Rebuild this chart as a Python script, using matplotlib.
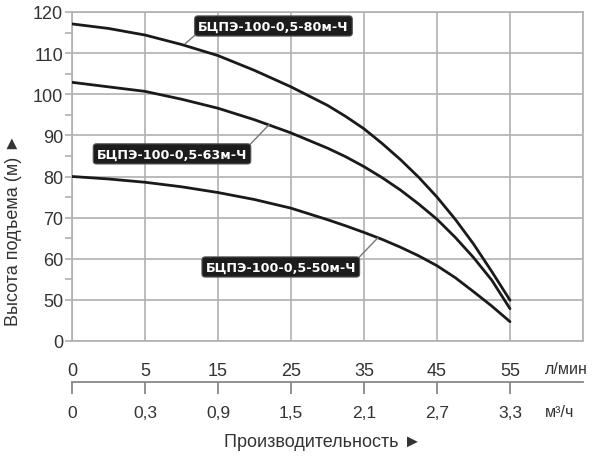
import numpy as np
import matplotlib
matplotlib.use("Agg")
import matplotlib.pyplot as plt

plt.rcParams['font.family'] = ['Liberation Sans', 'DejaVu Sans']

# ---- data ----
flow_lpm = [0, 2.5, 5, 10, 15, 20, 25, 30, 32.5, 35, 37.5, 40, 42.5, 45, 47.5, 50, 52.5, 55]
head_80 = [117.1, 116.0, 114.4, 112.1, 109.4, 105.8, 101.8, 97.3, 94.6, 91.6, 88.0, 84.1,
           79.8, 75.0, 69.6, 63.6, 56.9, 49.6]
head_63 = [102.9, 101.8, 100.7, 98.8, 96.6, 93.8, 90.6, 86.9, 84.8, 82.4, 79.7, 76.7,
           73.3, 69.6, 65.2, 60.3, 54.8, 39.3]
head_50 = [80.0, 79.4, 78.6, 77.5, 76.1, 74.4, 72.3, 69.5, 68.0, 66.4, 64.7, 62.8,
           60.7, 58.3, 55.4, 52.0, 42.5, 23.5]

names = ["БЦПЭ-100-0,5-80м-Ч", "БЦПЭ-100-0,5-63м-Ч", "БЦПЭ-100-0,5-50м-Ч"]

x_ticks = [0, 5, 15, 25, 35, 45, 55]
x_ticklabels = ["0", "5", "15", "25", "35", "45", "55"]
x2_ticklabels = ["0", "0,3", "0,9", "1,5", "2,1", "2,7", "3,3"]
y_ticks = [0, 50, 60, 70, 80, 90, 100, 110, 120]
y_ticklabels = ["0", "50", "60", "70", "80", "90", "100", "110", "120"]
y_minor = [55, 65, 75, 85, 95, 105, 115]

# ---- piecewise scales (equal spacing between ticks) ----
xb = np.array([-1e4, 0, 5, 15, 25, 35, 45, 55, 65, 65 + 1e4])
xp = np.array([-2e3, 0, 1, 2, 3, 4, 5, 6, 7, 7 + 1e3])
yb = np.array([-1e4, 0, 50, 60, 70, 80, 90, 100, 110, 120, 120 + 1e4])
yp = np.array([-200, 0, 1, 2, 3, 4, 5, 6, 7, 8, 8 + 1e3])

def fx(v):
    return np.interp(v, xb, xp)
def fx_inv(v):
    return np.interp(v, xp, xb)
def fy(v):
    return np.interp(v, yb, yp)
def fy_inv(v):
    return np.interp(v, yp, yb)

W, H = 603, 460
fig = plt.figure(figsize=(W / 100, H / 100), dpi=100)
L, R, T, B = 72, 583, 13, 342
ax = fig.add_axes([L / W, 1 - B / H, (R - L) / W, (B - T) / H])

grid_c = '#b0b0b0'
txt_c = '#333333'

ax.set_xscale('function', functions=(fx, fx_inv))
ax.set_yscale('function', functions=(fy, fy_inv))
ax.set_xlim(0, 65)
ax.set_ylim(0, 120)

ax.set_xticks(x_ticks + [65])
ax.set_xticklabels(x_ticklabels + [""])
ax.set_yticks(y_ticks)
ax.set_yticklabels(y_ticklabels)
ax.set_yticks(y_minor, minor=True)
ax.xaxis.set_minor_locator(matplotlib.ticker.NullLocator())

ax.grid(True, which='major', color=grid_c, linewidth=1.2)
for s in ax.spines.values():
    s.set_color(grid_c)
    s.set_linewidth(1.2)

ax.tick_params(axis='x', which='major', length=0, pad=15, labelsize=13, labelcolor=txt_c)
ax.tick_params(axis='y', which='major', length=5, width=1.2, color=grid_c, pad=1.5,
               labelsize=13, labelcolor=txt_c)
ax.tick_params(axis='y', which='minor', length=5, width=1.2, color=grid_c)

for h in (head_80, head_63, head_50):
    ax.plot(flow_lpm, h, color='#1a1a1a', linewidth=2.0, solid_capstyle='round',
            solid_joinstyle='round', zorder=3)

box = dict(boxstyle='round,pad=0.28,rounding_size=0.25', facecolor='#1c1c1c',
           edgecolor='#555555', linewidth=0.8)
ann = [
    (names[0], (10.5, 112.3), (22.6, 116.6), (0, 0)),
    (names[1], (22.0, 92.6), (8.7, 85.5), (1, 1)),
    (names[2], (36.9, 65.1), (23.6, 58.0), (1, 1)),
]
for text, xy, xyt, rel in ann:
    ax.annotate(text, xy=xy, xytext=xyt, ha='center', va='center',
                fontsize=9.2, fontweight='bold', color='white',
                family=['DejaVu Sans'], bbox=box, zorder=5,
                arrowprops=dict(arrowstyle='-', color='#777777', lw=1.0,
                                shrinkA=0, shrinkB=0, relpos=rel))

# second (m3/h) axis
y2 = 383
ax2 = fig.add_axes([L / W, 1 - y2 / H, (R - L) / W, 0.0001])
ax2.set_xscale('function', functions=(fx, fx_inv))
ax2.set_xlim(0, 65)
ax2.set_yticks([])
for k in ('top', 'left', 'right'):
    ax2.spines[k].set_visible(False)
ax2.spines['bottom'].set_color('#888888')
ax2.spines['bottom'].set_linewidth(1.3)
ax2.set_xticks(x_ticks)
ax2.set_xticklabels(x2_ticklabels)
ax2.xaxis.set_minor_locator(matplotlib.ticker.NullLocator())
ax2.tick_params(axis='x', length=8.5, width=1.3, color='#888888', pad=8,
                labelsize=12.5, labelcolor=txt_c)
ax2.patch.set_visible(False)

fig.text(545 / W, 1 - 370 / H, "л/мин", ha='left', va='center', fontsize=11.5, color=txt_c)
fig.text(545 / W, 1 - 413 / H, "м³/ч", ha='left', va='center', fontsize=11.5, color=txt_c)
fig.text(323 / W, 1 - 443 / H, "Производительность ►", ha='center', va='center',
         fontsize=13, color=txt_c)
fig.text(14 / W, 1 - 230 / H, "Высота подъема (м) ►", ha='center', va='center',
         rotation=90, fontsize=13, color=txt_c)

fig.savefig("out.png", dpi=100)
